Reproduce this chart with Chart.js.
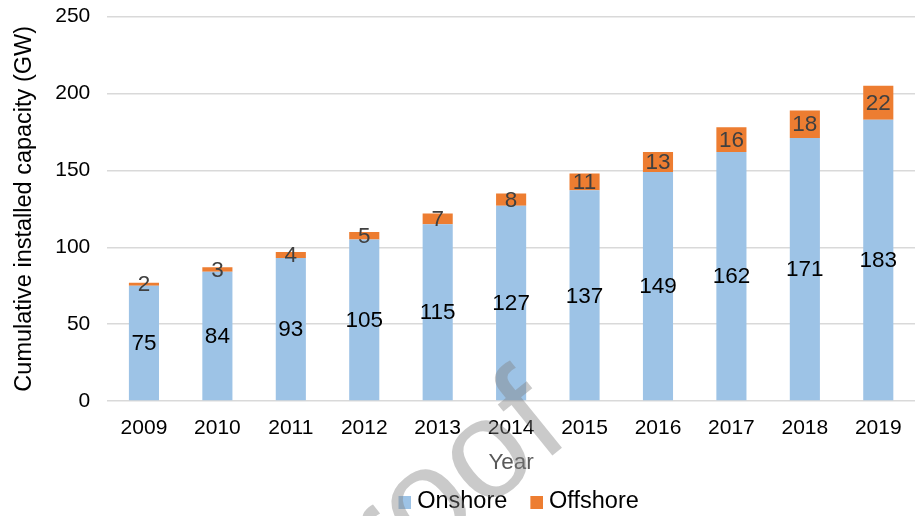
<!DOCTYPE html>
<html>
<head>
    <title>Cumulative installed capacity</title>
    <style>
        body { margin: 0; background: #ffffff; }
    </style>
</head>
<body>
    <canvas id="chart" width="915" height="516"></canvas>

    <script src="https://cdn.jsdelivr.net/npm/chart.js"></script>
    <script>
        const years = ['2009', '2010', '2011', '2012', '2013', '2014', '2015', '2016', '2017', '2018', '2019'];
        const onshore = [75, 84, 93, 105, 115, 127, 137, 149, 162, 171, 183];
        const offshore = [2, 3, 4, 5, 7, 8, 11, 13, 16, 18, 22];
        const yTicks = [0, 50, 100, 150, 200, 250];

        const FONT = "'Liberation Sans', Arial, sans-serif";
        const colors = ['#9DC3E6', '#ED7D31'];

        // legend swatch: small square at the right end of a wider transparent strip,
        // so the square sits close to its text like in the original
        function swatch(color) {
            const c = document.createElement('canvas');
            c.width = 34;
            c.height = 13;
            const g = c.getContext('2d');
            g.fillStyle = color;
            g.fillRect(21, 0, 13, 13);
            return c;
        }

        // value labels in the middle of every bar segment
        const segmentLabels = {
            id: 'segmentLabels',
            afterDatasetsDraw(chart) {
                const ctx = chart.ctx;
                ctx.save();
                ctx.font = '22.5px ' + FONT;
                ctx.textAlign = 'center';
                ctx.textBaseline = 'middle';
                chart.data.datasets.forEach((ds, i) => {
                    const meta = chart.getDatasetMeta(i);
                    ctx.fillStyle = i === 0 ? '#000000' : '#404040';
                    meta.data.forEach((bar, j) => {
                        const y = (bar.y + bar.base) / 2;
                        ctx.fillText(String(ds.data[j]), bar.x, y + 1);
                    });
                });
                ctx.restore();
            }
        };

        // faint "Proof" stamp over the picture
        const proofStamp = {
            id: 'proofStamp',
            afterDraw(chart) {
                const ctx = chart.ctx;
                ctx.save();
                ctx.translate(443, 544);
                ctx.rotate(-39 * Math.PI / 180);
                ctx.font = '140px ' + FONT;
                ctx.textAlign = 'center';
                ctx.textBaseline = 'alphabetic';
                ctx.fillStyle = 'rgba(128, 128, 128, 0.42)';
                ctx.fillText('Proof', 0, 0);
                ctx.restore();
            }
        };

        new Chart(document.getElementById('chart'), {
            type: 'bar',
            data: {
                labels: years,
                datasets: [
                    {
                        label: 'Onshore',
                        data: onshore,
                        backgroundColor: colors[0],
                        barPercentage: 0.41,
                        categoryPercentage: 1
                    },
                    {
                        label: 'Offshore',
                        data: offshore,
                        backgroundColor: colors[1],
                        barPercentage: 0.41,
                        categoryPercentage: 1
                    }
                ]
            },
            options: {
                responsive: false,
                animation: false,
                layout: { padding: { top: 0, left: 10, right: 0, bottom: -7.75 } },
                scales: {
                    x: {
                        stacked: true,
                        grid: { display: false },
                        border: { display: false },
                        ticks: { color: '#000000', font: { family: FONT, size: 21 }, padding: 7 },
                        title: {
                            display: true,
                            text: 'Year',
                            color: '#595959',
                            font: { family: FONT, size: 22.5 },
                            padding: { top: 1, bottom: 6 }
                        }
                    },
                    y: {
                        stacked: true,
                        min: 0,
                        max: 250,
                        afterBuildTicks(axis) {
                            axis.ticks = yTicks.map(v => ({ value: v }));
                        },
                        // invisible tick marks give the gap between labels and grid
                        grid: { color: '#D9D9D9', lineWidth: 1.5, drawTicks: true, tickLength: 13, tickColor: 'rgba(0,0,0,0)' },
                        border: { display: false },
                        ticks: { color: '#000000', font: { family: FONT, size: 21 }, padding: 4 },
                        title: {
                            display: true,
                            text: 'Cumulative installed capacity (GW)',
                            color: '#000000',
                            font: { family: FONT, size: 23.5 },
                            padding: { top: 0, bottom: 13 }
                        }
                    }
                },
                plugins: {
                    legend: {
                        position: 'bottom',
                        fullSize: false,
                        labels: {
                            color: '#000000',
                            font: { family: FONT, size: 23.5 },
                            usePointStyle: true,
                            pointStyleWidth: 22,
                            padding: 8,
                            generateLabels(chart) {
                                const items = Chart.defaults.plugins.legend.labels.generateLabels(chart);
                                items.forEach((item, i) => { item.pointStyle = swatch(colors[i]); });
                                return items;
                            }
                        }
                    },
                    tooltip: { enabled: false }
                }
            },
            plugins: [segmentLabels, proofStamp]
        });
    </script>
</body>
</html>
